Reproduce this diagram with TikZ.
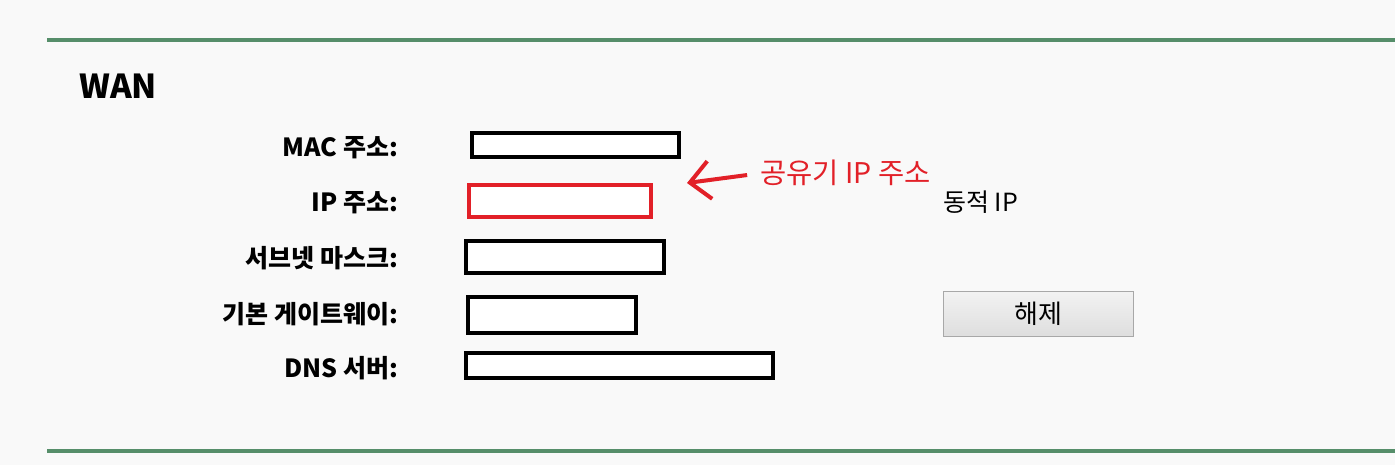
\documentclass[tikz,border=0pt]{standalone}
\usepackage{fontspec}
\setmainfont{Noto Sans CJK KR}
\usetikzlibrary{arrows.meta, positioning}

\definecolor{pagebg}{RGB}{249,249,249}
\definecolor{rulegreen}{RGB}{86,142,106}
\definecolor{markred}{RGB}{226,32,40}
\definecolor{btnedge}{RGB}{168,168,168}

\begin{document}
\begin{tikzpicture}[x=1pt, y=-1pt]
        \tikzstyle{lbl} = [anchor=base east, inner sep=0, font=\fontsize{25}{30}\selectfont\bfseries]
        \tikzstyle{field} = [draw=black, line width=4pt, fill=white, inner sep=0]
        \tikzstyle{note} = [anchor=base west, inner sep=0, text=markred, font=\fontsize{28.5}{32}\selectfont]
        \tikzstyle{rule} = [draw=rulegreen, line width=3.5pt]
        \tikzstyle{connect} = [-{Straight Barb[length=20pt, width=38pt]}, line width=4pt, draw=markred, shorten <=13pt]
        % page and rules
        \fill[pagebg] (0,0) rectangle (1395,465);
        \useasboundingbox (0,0) rectangle (1395,465);
        \coordinate (rtl) at (47,40);
        \coordinate (rtr) at (1395,40);
        \coordinate (rbl) at (47,451);
        \coordinate (rbr) at (1395,451);
        \draw[rule] (rtl) -- (rtr);
        \draw[rule] (rbl) -- (rbr);
        \node[anchor=base west, inner sep=0, font=\fontsize{33}{36}\selectfont\bfseries] (wan) at (79,99) {WAN};
        % labels
        \node[lbl] (mac) at (398,157) {MAC 주소:};
        \node[lbl] (ip) at (398,212) {IP 주소:};
        \node[lbl] (mask) at (398,268) {서브넷 마스크:};
        \node[lbl] (gw) at (398,323) {기본 게이트웨이:};
        \node[lbl] (dns) at (398,377) {DNS 서버:};
        % fields
        \node[field, minimum width=207, minimum height=24] (macbox) at (575.5,145) {};
        \node[field, draw=markred, minimum width=182, minimum height=32] (ipbox) at (560,201) {};
        \node[field, minimum width=198, minimum height=32] (maskbox) at (565,257) {};
        \node[field, minimum width=168, minimum height=36] (gwbox) at (552,315) {};
        \node[field, minimum width=307, minimum height=25] (dnsbox) at (619.5,365.5) {};
        % right side
        \node[anchor=base west, inner sep=0, font=\fontsize{25}{30}\selectfont] (mode) at (943,212) {동적 IP};
        \node[draw=btnedge, line width=1pt, top color=white!95!black, bottom color=white!87!black,
              minimum width=190, minimum height=45, font=\fontsize{26}{30}\selectfont] (release) at (1038.5,314) {해제};
        % annotation
        \node[note] (ipnote) at (760,184) {공유기 IP 주소};
        \coordinate (iptip) at (687,183);
        \draw[connect] (ipnote.west) -- (iptip);
      \end{tikzpicture}
\end{document}
